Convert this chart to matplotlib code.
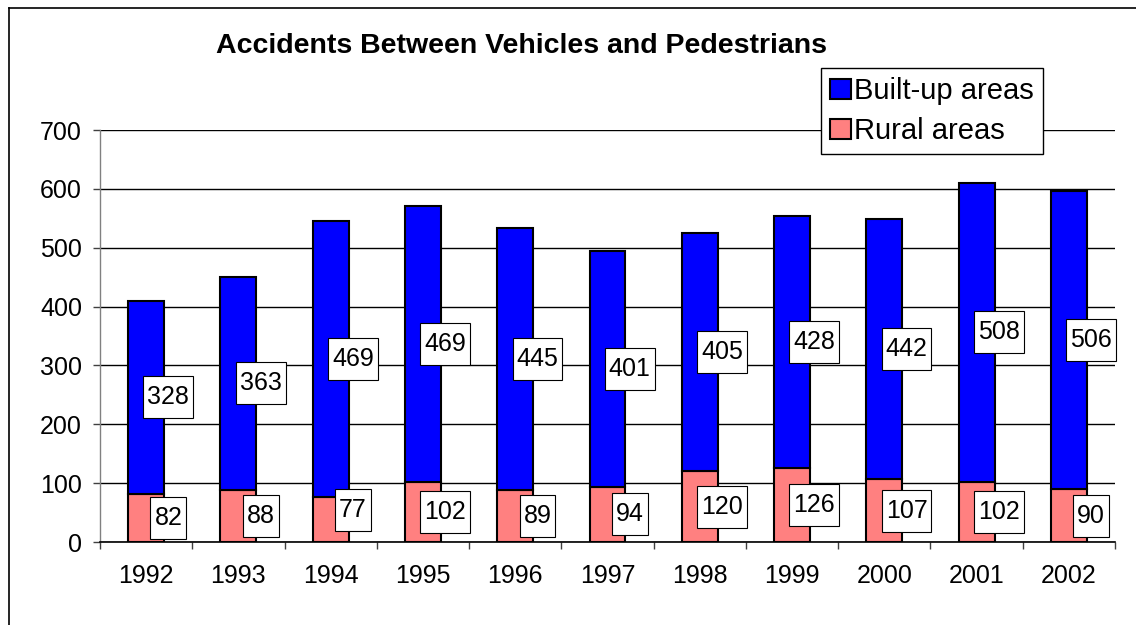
import matplotlib
matplotlib.use("Agg")
import matplotlib.pyplot as plt
from matplotlib.lines import Line2D
from matplotlib.path import Path
import numpy as np

plt.rcParams['font.family'] = ['Liberation Sans', 'DejaVu Sans']

years = ["1992", "1993", "1994", "1995", "1996", "1997", "1998", "1999", "2000", "2001", "2002"]
rural = [82, 88, 77, 102, 89, 94, 120, 126, 107, 102, 90]
built_up = [328, 363, 469, 469, 445, 401, 405, 428, 442, 508, 506]
yticks = [0, 100, 200, 300, 400, 500, 600, 700]

W, H = 1136, 625
fig = plt.figure(figsize=(W / 100, H / 100), dpi=100)
ax = fig.add_axes([100 / W, 1 - 542 / H, (1115 - 100) / W, (542 - 130) / H])


def label_box(x0, y0, width, height, mutation_size):
    px = 0.16 * mutation_size
    py = 0.36 * mutation_size
    x0, y0 = x0 - px, y0 - py
    x1, y1 = x0 + width + 2 * px, y0 + height + 2 * py
    return Path([(x0, y0), (x1, y0), (x1, y1), (x0, y1), (x0, y0)], closed=True)


x = np.arange(len(years))
bw = 0.39
b1 = ax.bar(x, rural, bw, color='#FF8080', edgecolor='black', linewidth=1.5, label='Rural areas', zorder=3)
b2 = ax.bar(x, built_up, bw, bottom=rural, color='#0000FF', edgecolor='black', linewidth=1.5,
            label='Built-up areas', zorder=3)

for i in range(len(years)):
    yc_r = rural[i] / 2
    if yc_r < 40:  # keep the label box inside the plot area (as the spreadsheet does)
        yc_r = 54
    for val, yc in ((rural[i], yc_r), (built_up[i], rural[i] + built_up[i] / 2)):
        ax.annotate(str(val), (x[i], yc), xytext=(16, 0), textcoords='offset points',
                    ha='center', va='center', fontsize=18,
                    bbox=dict(boxstyle=label_box, fc='white', ec='black', lw=0.8), zorder=5)

ax.set_xlim(-0.5, len(years) - 0.5)
ax.set_ylim(0, 700)
ax.set_yticks(yticks)
ax.set_yticklabels([str(v) for v in yticks])
ax.yaxis.grid(True, color='black', linewidth=1.0, zorder=0)
ax.set_axisbelow(True)

ax.set_xticks(x)
ax.set_xticklabels(years)
ax.set_xticks(np.arange(len(years) + 1) - 0.5, minor=True)
ax.tick_params(axis='x', which='major', length=0, pad=16, labelsize=18)
ax.tick_params(axis='x', which='minor', length=5, width=1, color='#404040', direction='out')
ax.tick_params(axis='y', which='major', length=5, width=1, color='#404040', pad=8, labelsize=18)

for s in ['top', 'right']:
    ax.spines[s].set_visible(False)
ax.spines['left'].set_color('#808080')
ax.spines['left'].set_linewidth(1.0)
ax.spines['bottom'].set_color('black')
ax.spines['bottom'].set_linewidth(1.2)

fig.text(521 / W, 1 - 53 / H, 'Accidents Between Vehicles and Pedestrians', ha='center', va='baseline',
         fontsize=20.5, fontweight='bold')

leg = fig.legend(handles=[b2, b1], labels=['Built-up areas', 'Rural areas'],
                 loc='upper left', bbox_to_anchor=(821 / W, 1 - 68 / H), bbox_transform=fig.transFigure,
                 fontsize=21, frameon=True, fancybox=False, shadow=False, borderpad=0.3,
                 handlelength=0.72, handleheight=0.68, handletextpad=0.12, labelspacing=0.42,
                 borderaxespad=0)
leg.get_frame().set_edgecolor('black')
leg.get_frame().set_linewidth(1.0)
leg.get_frame().set_alpha(1)

fig.add_artist(Line2D([9 / W, 9 / W], [0, 1 - 8 / H], transform=fig.transFigure, color='black', lw=1.2))
fig.add_artist(Line2D([9 / W, 1], [1 - 8 / H, 1 - 8 / H], transform=fig.transFigure, color='black', lw=1.2))

fig.savefig('out.png', dpi=100)
